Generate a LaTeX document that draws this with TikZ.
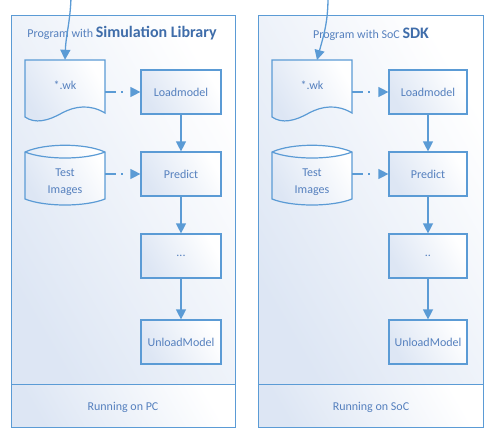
\documentclass[tikz,border=0pt]{standalone}
\usepackage{fontspec}
\setmainfont{Carlito}
\usetikzlibrary{arrows.meta}
\definecolor{ln}{HTML}{5B9BD5}
\definecolor{tx}{HTML}{5580BE}
\definecolor{tb}{HTML}{3F6DAA}
\definecolor{sh}{HTML}{DDE6F4}
\begin{document}
\begin{tikzpicture}[x=1pt,y=-1pt,
  fillshade/.style={left color=sh, right color=white, shading angle=120},
  panel/.style={draw=ln, line width=1pt, fillshade, anchor=north west, inner sep=0pt},
  box/.style={draw=ln, line width=1.2pt, fillshade, minimum width=80pt, minimum height=44pt, inner sep=0pt, text=tx, font=\fontsize{12}{17}\selectfont},
  ghost/.style={inner sep=0pt, minimum width=80pt},
  lbl/.style={text=tx, font=\fontsize{12}{17}\selectfont, align=center, inner sep=0pt},
  shapeline/.style={draw=ln, line width=1.2pt, fillshade},
  arr/.style={draw=ln, line width=1.3pt, -{Triangle[length=10pt,width=10pt]}},
  darr/.style={draw=ln, line width=1.3pt, dash pattern=on 11pt off 5pt on 1.5pt off 30pt, -{Triangle[length=10pt,width=10pt]}}
]
\useasboundingbox (0,0) rectangle (490,431);
% ---------- left panel ----------
\node[panel, minimum width=224pt, minimum height=369pt] (pl) at (11,15) {};
\node[panel, minimum width=224pt, minimum height=43pt] (bl) at (11,384) {};
\node[lbl] (tl) at (122,33) {Program with {\color{tb}\bfseries\fontsize{16}{18}\selectfont Simulation Library}};
\node[lbl] (rl) at (123,407) {Running on PC};
% document shape
\node[ghost, minimum height=60pt] (wk1) at (65,90) {};
\path[shapeline] (25,60) -- (105,60) -- (105,113)
  .. controls (90,104) and (75,106) .. (62,113)
  .. controls (48,121) and (35,124) .. (25,117) -- cycle;
\node[lbl] (wkt1) at (65,85) {*.wk};
% cylinder
\node[ghost, minimum height=58pt] (ti1) at (65,177) {};
\path[shapeline] (25,152) -- (25,199) .. controls (45,207) and (85,207) .. (105,199) -- (105,152)
  .. controls (85,143) and (45,143) .. (25,152) -- cycle;
\draw[draw=ln, line width=1.2pt] (25,152) .. controls (45,160) and (85,160) .. (105,152);
\node[lbl] (tit1) at (65,182) {Test\\Images};
% boxes
\node[box] (lm1) at (181,92) {Loadmodel};
\node[box] (pr1) at (181,174) {Predict};
\node[box] (dt1) at (181,256) {...};
\node[box] (ul1) at (181,342) {UnloadModel};
\draw[arr] (lm1) -- (pr1);
\draw[arr] (pr1) -- (dt1);
\draw[arr] (dt1) -- (ul1);
\draw[darr] (lm1.west -| wk1.east) -- (lm1.west);
\draw[darr] (pr1.west -| ti1.east) -- (pr1.west);
\coordinate (in1) at (71,-2);
\draw[arr] (in1) to[out=-92, in=88] (wk1.north);
% ---------- right panel ----------
\node[panel, minimum width=225pt, minimum height=369pt] (pr) at (258,15) {};
\node[panel, minimum width=225pt, minimum height=43pt] (br) at (258,384) {};
\node[lbl] (tr) at (371,34) {Program with SoC {\color{tb}\bfseries\fontsize{16}{18}\selectfont SDK}};
\node[lbl] (rr) at (371,407) {Running on SoC};
\node[ghost, minimum height=60pt] (wk2) at (312,90) {};
\path[shapeline] (272,60) -- (352,60) -- (352,113)
  .. controls (337,104) and (322,106) .. (309,113)
  .. controls (295,121) and (282,124) .. (272,117) -- cycle;
\node[lbl] (wkt2) at (312,85) {*.wk};
\node[ghost, minimum height=58pt] (ti2) at (312,177) {};
\path[shapeline] (272,152) -- (272,199) .. controls (292,207) and (332,207) .. (352,199) -- (352,152)
  .. controls (332,143) and (292,143) .. (272,152) -- cycle;
\draw[draw=ln, line width=1.2pt] (272,152) .. controls (292,160) and (332,160) .. (352,152);
\node[lbl] (tit2) at (312,182) {Test\\Images};
\node[box, minimum width=78pt] (lm2) at (428,92) {Loadmodel};
\node[box, minimum width=78pt] (pr2) at (428,174) {Predict};
\node[box, minimum width=78pt] (dt2) at (428,256) {..};
\node[box, minimum width=78pt] (ul2) at (428,342) {UnloadModel};
\draw[arr] (lm2) -- (pr2);
\draw[arr] (pr2) -- (dt2);
\draw[arr] (dt2) -- (ul2);
\draw[darr] (lm2.west -| wk2.east) -- (lm2.west);
\draw[darr] (pr2.west -| ti2.east) -- (pr2.west);
\coordinate (in2) at (328,-2);
\draw[arr] (in2) to[out=-90, in=75] (317,60);
\end{tikzpicture}
\end{document}
